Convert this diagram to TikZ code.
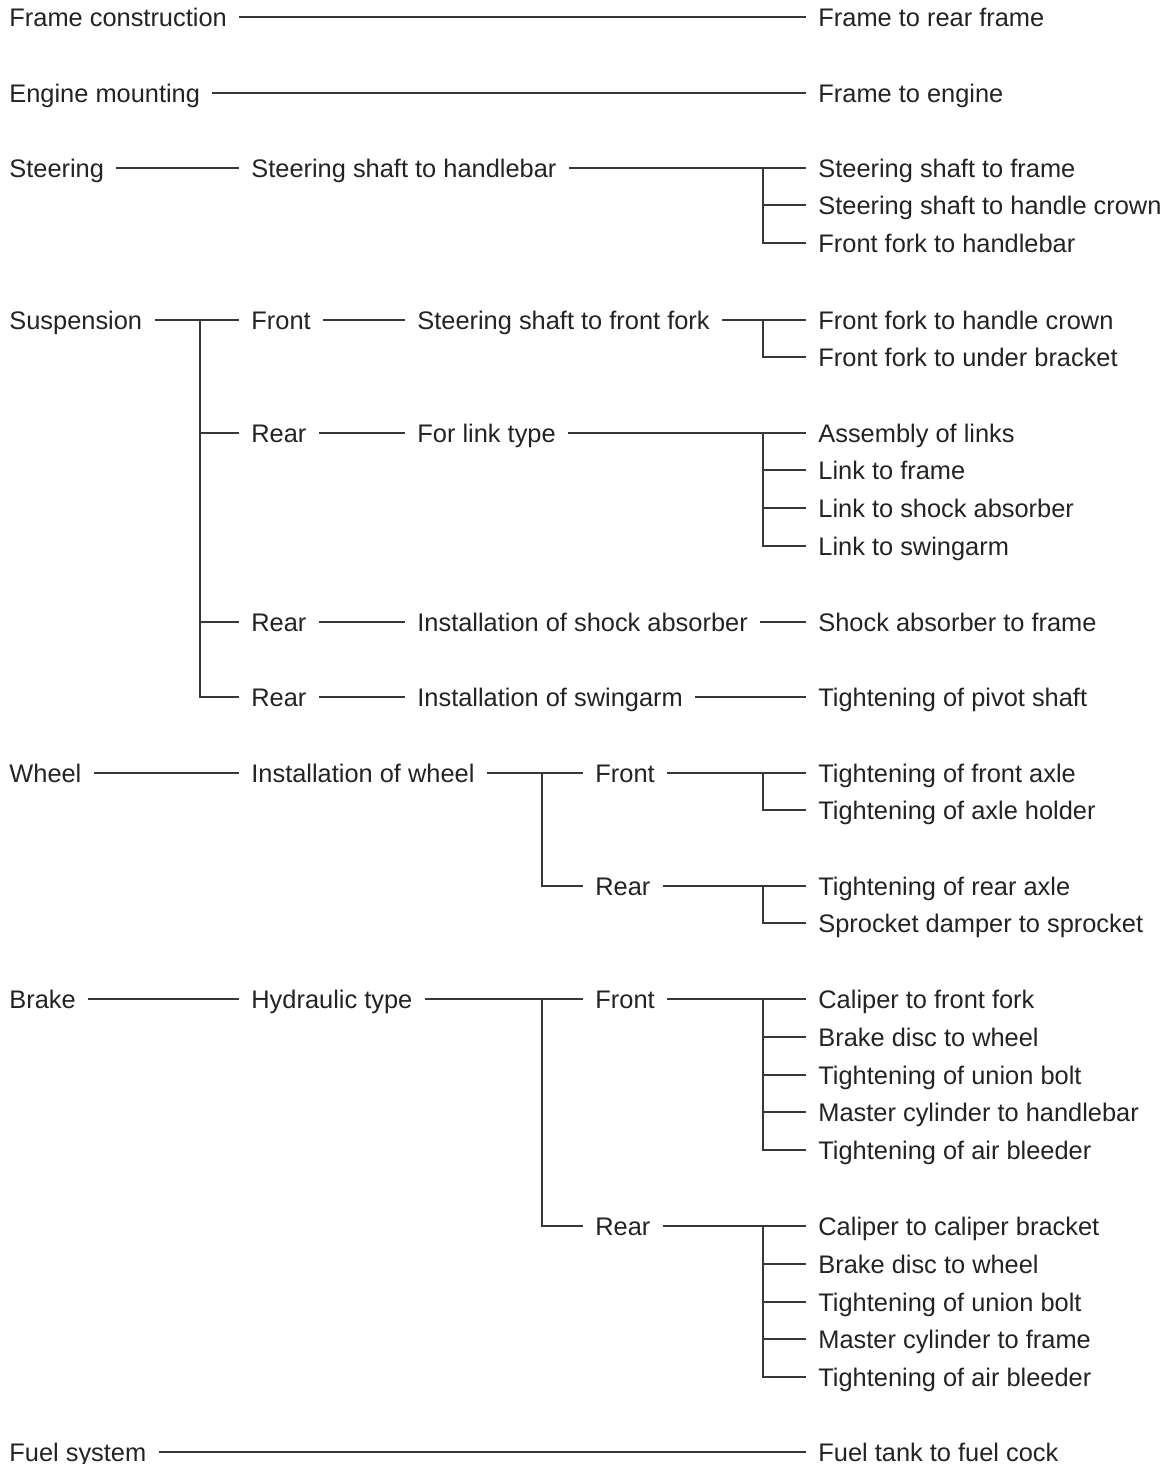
\documentclass[tikz,border=0pt]{standalone}
\usepackage{fontspec}
\setmainfont{Liberation Sans}
\usepackage{tikz}
\usetikzlibrary{calc,positioning}
\definecolor{inkgray}{RGB}{35,35,35}
\definecolor{wiregray}{RGB}{55,55,55}

\begin{document}
\begin{tikzpicture}[x=0.5pt,y=-0.5pt,
    item/.style={anchor=west,inner xsep=6pt,inner ysep=0pt,text height=11pt,text depth=2pt,
                 font=\fontsize{12.7}{15}\selectfont,text=inkgray},
    wire/.style={draw=wiregray,line width=0.8pt}]
          % Page frame
          \useasboundingbox (0,0) rectangle (1167,1464);
          % Frame and engine
          \node[item] (frame) at (-3,17) {Frame construction};
          \node[item] (framerear) at (806,17) {Frame to rear frame};
          \draw[wire] (frame.east) -- (framerear.west);
          \node[item] (engine) at (-3,93) {Engine mounting};
          \node[item] (frameeng) at (806,93) {Frame to engine};
          \draw[wire] (engine.east) -- (frameeng.west);
          % Steering
          \node[item] (steer) at (-3,168) {Steering};
          \node[item] (shaftbar) at (239,168) {Steering shaft to handlebar};
          \coordinate (bsteer) at (763,168);
          \draw[wire] (steer.east) -- (shaftbar.west);
          \draw[wire] (shaftbar.east) -- (bsteer);
          \foreach \y/\t [count=\i] in {168/Steering shaft to frame,205/Steering shaft to handle crown,243/Front fork to handlebar}{
            \node[item] (st\i) at (806,\y) {\t};
            \draw[wire] (bsteer) |- (st\i.west);
          }
          % Suspension
          \node[item] (susp) at (-3,320) {Suspension};
          \coordinate (bsusp) at (200,320);
          \draw[wire] (susp.east) -- (bsusp);
          \node[item] (sfront) at (239,320) {Front};
          \node[item] (sfork) at (405,320) {Steering shaft to front fork};
          \coordinate (bfork) at (763,320);
          \draw[wire] (bsusp) -- (sfront.west);
          \draw[wire] (sfront.east) -- (sfork.west);
          \draw[wire] (sfork.east) -- (bfork);
          \foreach \y/\t [count=\i] in {320/Front fork to handle crown,357/Front fork to under bracket}{
            \node[item] (fk\i) at (806,\y) {\t};
            \draw[wire] (bfork) |- (fk\i.west);
          }
          % Rear, link type
          \node[item] (srear1) at (239,433) {Rear};
          \node[item] (slink) at (405,433) {For link type};
          \coordinate (blink) at (763,433);
          \draw[wire] (bsusp) |- (srear1.west);
          \draw[wire] (srear1.east) -- (slink.west);
          \draw[wire] (slink.east) -- (blink);
          \foreach \y/\t [count=\i] in {433/Assembly of links,470/Link to frame,508/Link to shock absorber,546/Link to swingarm}{
            \node[item] (lk\i) at (806,\y) {\t};
            \draw[wire] (blink) |- (lk\i.west);
          }
          % Rear, shock absorber and swingarm
          \node[item] (srear2) at (239,622) {Rear};
          \node[item] (sshock) at (405,622) {Installation of shock absorber};
          \node[item] (shockfr) at (806,622) {Shock absorber to frame};
          \draw[wire] (bsusp) |- (srear2.west);
          \draw[wire] (srear2.east) -- (sshock.west);
          \draw[wire] (sshock.east) -- (shockfr.west);
          \node[item] (srear3) at (239,697) {Rear};
          \node[item] (sswing) at (405,697) {Installation of swingarm};
          \node[item] (pivot) at (806,697) {Tightening of pivot shaft};
          \draw[wire] (bsusp) |- (srear3.west);
          \draw[wire] (srear3.east) -- (sswing.west);
          \draw[wire] (sswing.east) -- (pivot.west);
          % Wheel
          \node[item] (wheel) at (-3,773) {Wheel};
          \node[item] (winst) at (239,773) {Installation of wheel};
          \coordinate (bwheel) at (542,773);
          \draw[wire] (wheel.east) -- (winst.west);
          \draw[wire] (winst.east) -- (bwheel);
          \node[item] (wfront) at (583,773) {Front};
          \node[item] (wrear) at (583,886) {Rear};
          \draw[wire] (bwheel) -- (wfront.west);
          \draw[wire] (bwheel) |- (wrear.west);
          \coordinate (bwf) at (763,773);
          \coordinate (bwr) at (763,886);
          \draw[wire] (wfront.east) -- (bwf);
          \draw[wire] (wrear.east) -- (bwr);
          \foreach \y/\t [count=\i] in {773/Tightening of front axle,810/Tightening of axle holder}{
            \node[item] (wf\i) at (806,\y) {\t};
            \draw[wire] (bwf) |- (wf\i.west);
          }
          \foreach \y/\t [count=\i] in {886/Tightening of rear axle,923/Sprocket damper to sprocket}{
            \node[item] (wr\i) at (806,\y) {\t};
            \draw[wire] (bwr) |- (wr\i.west);
          }
          % Brake
          \node[item] (brake) at (-3,999) {Brake};
          \node[item] (hydr) at (239,999) {Hydraulic type};
          \coordinate (bbrake) at (542,999);
          \draw[wire] (brake.east) -- (hydr.west);
          \draw[wire] (hydr.east) -- (bbrake);
          \node[item] (bfront) at (583,999) {Front};
          \node[item] (brear) at (583,1226) {Rear};
          \draw[wire] (bbrake) -- (bfront.west);
          \draw[wire] (bbrake) |- (brear.west);
          \coordinate (bbf) at (763,999);
          \coordinate (bbr) at (763,1226);
          \draw[wire] (bfront.east) -- (bbf);
          \draw[wire] (brear.east) -- (bbr);
          \foreach \y/\t [count=\i] in {999/Caliper to front fork,1037/Brake disc to wheel,1075/Tightening of union bolt,1112/Master cylinder to handlebar,1150/Tightening of air bleeder}{
            \node[item] (bf\i) at (806,\y) {\t};
            \draw[wire] (bbf) |- (bf\i.west);
          }
          \foreach \y/\t [count=\i] in {1226/Caliper to caliper bracket,1264/Brake disc to wheel,1302/Tightening of union bolt,1339/Master cylinder to frame,1377/Tightening of air bleeder}{
            \node[item] (br\i) at (806,\y) {\t};
            \draw[wire] (bbr) |- (br\i.west);
          }
          % Fuel system
          \node[item] (fuel) at (-3,1452) {Fuel system};
          \node[item] (fuelcock) at (806,1452) {Fuel tank to fuel cock};
          \draw[wire] (fuel.east) -- (fuelcock.west);
\end{tikzpicture}
\end{document}
